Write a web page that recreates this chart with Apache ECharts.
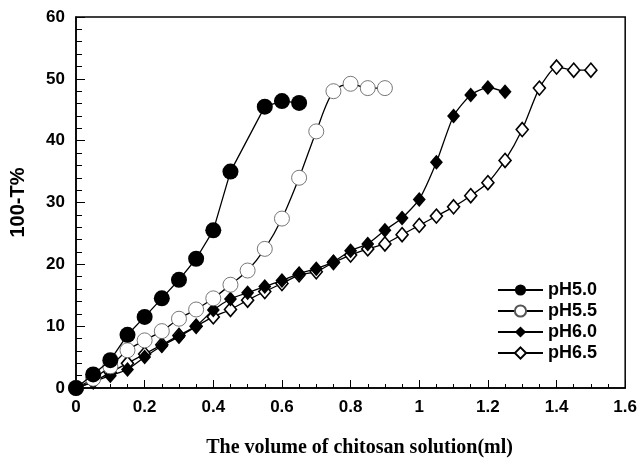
<!DOCTYPE html>
<html>
<head>
<meta charset="utf-8">
<script src="https://cdn.jsdelivr.net/npm/echarts@6/dist/echarts.min.js"></script>
<style>
  html, body { margin: 0; padding: 0; background: #fff; }
  #chart { width: 640px; height: 463px; }
</style>
</head>
<body>
<div id="chart"></div>
<script>
// volume (ml) for each series
const xPH50 = [0, 0.05, 0.1, 0.15, 0.2, 0.25, 0.3, 0.35, 0.4, 0.45, 0.55, 0.6, 0.65];
const yPH50 = [0, 2.2, 4.5, 8.6, 11.5, 14.5, 17.5, 20.9, 25.5, 35, 45.5, 46.4, 46.1];

const xPH55 = [0, 0.05, 0.1, 0.15, 0.2, 0.25, 0.3, 0.35, 0.4, 0.45, 0.5, 0.55, 0.6, 0.65, 0.7, 0.75, 0.8, 0.85, 0.9];
const yPH55 = [0, 1.5, 3.5, 6.1, 7.7, 9.2, 11.2, 12.7, 14.5, 16.7, 19, 22.5, 27.4, 34, 41.5, 48, 49.2, 48.5, 48.5];

const xPH60 = [0, 0.05, 0.1, 0.15, 0.2, 0.25, 0.3, 0.35, 0.4, 0.45, 0.5, 0.55, 0.6, 0.65, 0.7, 0.75, 0.8, 0.85, 0.9, 0.95, 1.0, 1.05, 1.1, 1.15, 1.2, 1.25];
const yPH60 = [0, 1, 2, 3, 5, 6.8, 8.3, 10, 12.6, 14.4, 15.4, 16.4, 17.4, 18.5, 19.3, 20.4, 22.2, 23.3, 25.5, 27.5, 30.5, 36.5, 44, 47.4, 48.6, 47.9];

const xPH65 = [0, 0.05, 0.1, 0.15, 0.2, 0.25, 0.3, 0.35, 0.4, 0.45, 0.5, 0.55, 0.6, 0.65, 0.7, 0.75, 0.8, 0.85, 0.9, 0.95, 1.0, 1.05, 1.1, 1.15, 1.2, 1.25, 1.3, 1.35, 1.4, 1.45, 1.5];
const yPH65 = [0, 1, 2.5, 4, 5.5, 7, 8.5, 10, 11.5, 12.7, 14.2, 15.6, 16.9, 18.3, 18.8, 20.3, 21.5, 22.5, 23.3, 24.8, 26.3, 27.8, 29.3, 31.1, 33.2, 36.8, 41.8, 48.5, 51.9, 51.4, 51.4];

const seriesNames = ['pH5.0', 'pH5.5', 'pH6.0', 'pH6.5'];
const xTickLabels = ['0', '0.2', '0.4', '0.6', '0.8', '1', '1.2', '1.4', '1.6'];
const yTickLabels = ['0', '10', '20', '30', '40', '50', '60'];

const pairs = (xs, ys) => xs.map((x, i) => [x, ys[i]]);

const boldFont = { fontFamily: 'Liberation Sans, Arial, sans-serif', fontWeight: 'bold', fontSize: 17, color: '#000' };

const chart = echarts.init(document.getElementById('chart'));

const lineStyle = { color: '#000', width: 1.3 };

chart.setOption({
  animation: false,
  backgroundColor: '#fff',
  grid: {
    left: 76, right: 13, top: 17, bottom: 70,
    show: true, borderColor: '#000', borderWidth: 1.5, backgroundColor: 'transparent'
  },
  legend: {
    orient: 'vertical',
    right: 43,
    top: 281,
    padding: 0,
    itemGap: 3,
    itemWidth: 45,
    itemHeight: 14,
    textStyle: Object.assign({}, boldFont, { fontSize: 18, padding: [0, 0, 0, 0] }),
    data: seriesNames
  },
  xAxis: {
    type: 'value',
    min: 0, max: 1.6, interval: 0.2,
    name: 'The volume of chitosan solution(ml)',
    nameLocation: 'middle',
    nameGap: 50,
    nameTextStyle: { fontFamily: 'Liberation Serif, Times New Roman, serif', fontWeight: 'bold', fontSize: 20, color: '#000', padding: [0, 0, 0, 18] },
    axisLine: { onZero: false, lineStyle: { color: '#000', width: 1.5 } },
    axisTick: { inside: true, length: 8, lineStyle: { color: '#000' } },
    minorTick: { show: true, splitNumber: 4, length: 4, lineStyle: { color: '#000' } },
    splitLine: { show: false },
    axisLabel: Object.assign({}, boldFont, {
      margin: 11,
      formatter: (v) => xTickLabels[Math.round(v / 0.2)]
    })
  },
  yAxis: {
    type: 'value',
    min: 0, max: 60, interval: 10,
    name: '100-T%',
    nameLocation: 'middle',
    nameGap: 48,
    nameTextStyle: Object.assign({}, boldFont, { fontSize: 20 }),
    axisLine: { onZero: false, lineStyle: { color: '#000', width: 1.5 } },
    axisTick: { inside: true, length: 9, lineStyle: { color: '#000' } },
    minorTick: { show: true, splitNumber: 5, length: 6, lineStyle: { color: '#000' } },
    splitLine: { show: false },
    axisLabel: Object.assign({}, boldFont, {
      margin: 11,
      formatter: (v) => yTickLabels[Math.round(v / 10)]
    })
  },
  series: [
    {
      name: seriesNames[0], type: 'line', data: pairs(xPH50, yPH50),
      symbol: 'circle', symbolSize: 16,
      itemStyle: { color: '#000' }, lineStyle: lineStyle, z: 5
    },
    {
      name: seriesNames[1], type: 'line', data: pairs(xPH55, yPH55), smooth: 0.3,
      symbol: 'circle', symbolSize: 15,
      itemStyle: { color: '#fff', borderColor: '#555', borderWidth: 0.8 }, lineStyle: lineStyle, z: 4
    },
    {
      name: seriesNames[2], type: 'line', data: pairs(xPH60, yPH60), smooth: 0.2,
      symbol: 'diamond', symbolSize: [13, 15],
      itemStyle: { color: '#000' }, lineStyle: lineStyle, z: 3
    },
    {
      name: seriesNames[3], type: 'line', data: pairs(xPH65, yPH65), smooth: 0.2,
      symbol: 'diamond', symbolSize: [12, 14],
      itemStyle: { color: '#fff', borderColor: '#000', borderWidth: 1.6 }, lineStyle: lineStyle, z: 2
    }
  ]
});
</script>
</body>
</html>
